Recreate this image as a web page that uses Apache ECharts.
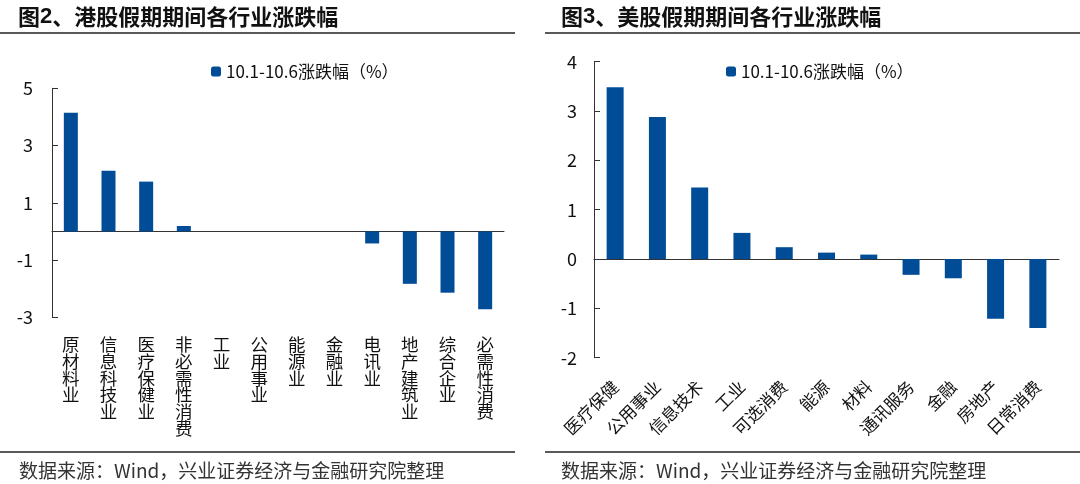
<!DOCTYPE html>
<html>
<head>
<meta charset="utf-8">
<script src="https://cdn.jsdelivr.net/npm/echarts@6/dist/echarts.min.js"></script>
<style>
html,body{margin:0;padding:0;background:#fff;}
#c{width:1080px;height:484px;}
</style>
</head>
<body>
<div id="c"></div>
<script>
const seriesName = '10.1-10.6涨跌幅（%）';
const hkCategories = ['原材料业','信息科技业','医疗保健业','非必需性消费','工业','公用事业','能源业','金融业','电讯业','地产建筑业','综合企业','必需性消费'];
const hkValues = [4.15, 2.12, 1.74, 0.19, 0, 0, 0, 0, -0.42, -1.83, -2.14, -2.72];
const hkTicks = [-3, -1, 1, 3, 5];
const usCategories = ['医疗保健','公用事业','信息技术','工业','可选消费','能源','材料','通讯服务','金融','房地产','日常消费'];
const usValues = [3.48, 2.88, 1.45, 0.53, 0.24, 0.13, 0.09, -0.32, -0.39, -1.21, -1.40];
const usTicks = [-2, -1, 0, 1, 2, 3, 4];

const FONT = '"Noto Sans CJK SC", "Noto Sans", sans-serif';
const BAR = '#004C97';
const AX = '#333333';

const titleRich = {
  a: {fontSize: 22, fontFamily: FONT, fontWeight: 'bold', color: '#111'},
  b: {fontSize: 22, fontFamily: 'Liberation Sans', fontWeight: 'bold', color: '#111'}
};

const chart = echarts.init(document.getElementById('c'));
chart.setOption({
  backgroundColor: '#fff',
  animation: false,
  textStyle: {fontFamily: FONT},
  title: [
    {text: '{a|图}{b|2}{a|、港股假期期间各行业涨跌幅}', left: 13, top: 1, textStyle: {rich: titleRich}},
    {text: '{a|图}{b|3}{a|、美股假期期间各行业涨跌幅}', left: 556, top: 1, textStyle: {rich: titleRich}},
    {text: '数据来源：Wind，兴业证券经济与金融研究院整理', left: 14, top: 456,
     textStyle: {fontSize: 19, fontWeight: 'normal', color: '#333', fontFamily: FONT}},
    {text: '数据来源：Wind，兴业证券经济与金融研究院整理', left: 556, top: 456,
     textStyle: {fontSize: 19, fontWeight: 'normal', color: '#333', fontFamily: FONT}}
  ],
  graphic: [
    {type: 'line', shape: {x1: 0, y1: 33, x2: 515, y2: 33}, style: {stroke: '#222', lineWidth: 1.5}},
    {type: 'line', shape: {x1: 545, y1: 33, x2: 1080, y2: 33}, style: {stroke: '#222', lineWidth: 1.5}},
    {type: 'line', shape: {x1: 0, y1: 452, x2: 515, y2: 452}, style: {stroke: '#222', lineWidth: 1.5}},
    {type: 'line', shape: {x1: 545, y1: 452, x2: 1080, y2: 452}, style: {stroke: '#222', lineWidth: 1.5}}
  ],
  legend: [
    {data: [seriesName], left: 206, top: 58, itemWidth: 10, itemHeight: 10, itemGap: 4,
     selectedMode: false, textStyle: {fontSize: 17, color: '#111', fontFamily: FONT}},
    {data: [seriesName], left: 721, top: 58, itemWidth: 10, itemHeight: 10, itemGap: 4,
     selectedMode: false, textStyle: {fontSize: 17, color: '#111', fontFamily: FONT}}
  ],
  grid: [
    {left: 52, top: 88.3, width: 452, height: 229},
    {left: 594, top: 61.7, width: 465, height: 296}
  ],
  xAxis: [
    {type: 'category', gridIndex: 0, data: hkCategories,
     axisLine: {show: false, onZero: false}, axisTick: {show: false},
     axisLabel: {interval: 0, margin: 19, fontSize: 17.5, lineHeight: 16.7, color: '#111', verticalAlign: 'top',
       formatter: v => v.split('').join('\n')}},
    {type: 'category', gridIndex: 0, data: hkCategories,
     axisLine: {show: true, onZero: true, lineStyle: {color: AX, width: 1}}, axisTick: {show: false}, axisLabel: {show: false}},
    {type: 'category', gridIndex: 1, data: usCategories,
     axisLine: {show: false, onZero: false}, axisTick: {show: false},
     axisLabel: {interval: 0, rotate: 45, margin: 26, fontSize: 17, color: '#111'}},
    {type: 'category', gridIndex: 1, data: usCategories,
     axisLine: {show: true, onZero: true, lineStyle: {color: AX, width: 1}}, axisTick: {show: false}, axisLabel: {show: false}}
  ],
  yAxis: [
    {type: 'value', gridIndex: 0, min: -3, max: 5,
     axisLine: {show: true, lineStyle: {color: AX, width: 1}},
     axisTick: {show: true, inside: true, length: 6, customValues: hkTicks, lineStyle: {color: AX}},
     axisLabel: {customValues: hkTicks, fontSize: 18, color: '#111', margin: 19},
     splitLine: {show: false}},
    {type: 'value', gridIndex: 1, min: -2, max: 4, interval: 1,
     axisLine: {show: true, lineStyle: {color: AX, width: 1}},
     axisTick: {show: true, inside: true, length: 6, customValues: usTicks, lineStyle: {color: AX}},
     axisLabel: {customValues: usTicks, fontSize: 18, color: '#111', margin: 17},
     splitLine: {show: false}}
  ],
  series: [
    {name: seriesName, type: 'bar', xAxisIndex: 1, yAxisIndex: 0, data: hkValues, barWidth: 14,
     itemStyle: {color: BAR}},
    {name: seriesName, type: 'bar', xAxisIndex: 3, yAxisIndex: 1, data: usValues, barWidth: 17,
     itemStyle: {color: BAR}}
  ]
});
</script>
</body>
</html>
